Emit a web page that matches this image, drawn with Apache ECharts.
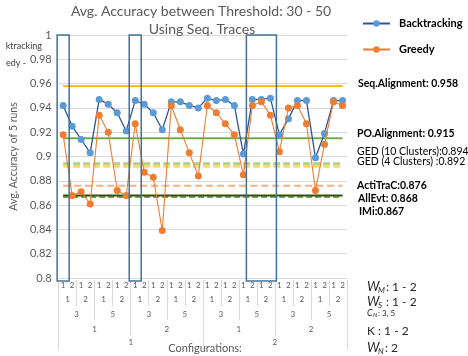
<!DOCTYPE html>
<html><head><meta charset="utf-8">
<script src="https://cdn.jsdelivr.net/npm/echarts@6/dist/echarts.min.js"></script>
<style>html,body{margin:0;padding:0;background:#fff}#c{width:468px;height:356px}</style>
</head><body><div id="c"></div>
<script>
// ---- data ----
const level1Labels = ['1','2','1','2','1','2','1','2','1','2','1','2','1','2','1','2','1','2','1','2','1','2','1','2','1','2','1','2','1','2','1','2'];
const level2Labels = ['1','2','1','2','1','2','1','2','1','2','1','2','1','2','1','2'];
const level3Labels = ['3','5','3','5','3','5','3','5'];
const level4Labels = ['1','2','1','2'];
const level5Labels = ['1','2'];
const backtracking = [0.942,0.925,0.914,0.903,0.947,0.943,0.936,0.921,0.946,0.943,0.936,0.922,0.945,0.945,0.942,0.940,0.948,0.946,0.947,0.942,0.902,0.947,0.947,0.948,0.918,0.931,0.946,0.946,0.899,0.919,0.946,0.946];
const greedy = [0.918,0.868,0.871,0.861,0.934,0.920,0.872,0.868,0.927,0.887,0.883,0.839,0.942,0.922,0.903,0.884,0.942,0.936,0.927,0.918,0.885,0.942,0.945,0.934,0.904,0.940,0.942,0.927,0.872,0.910,0.945,0.942];
const refNames = ['Seq.Alignment','PO.Alignment','GED (10 Clusters)','GED (4 Clusters)','ActiTraC','IMi','AllEvt'];
const refValues = [0.958,0.915,0.894,0.892,0.876,0.867,0.868];
const refLabels = ['Seq.Alignment: 0.958','PO.Alignment: 0.915','GED (10 Clusters):0.894','GED (4 Clusters) :0.892','ActiTraC:0.876','IMi:0.867','AllEvt: 0.868'];
const highlightRanges = [[0,0],[8,8],[21,23]];
const yMin = 0.8, yMax = 1, yStep = 0.02;

// ---- styles ----
const refStyles = [
  {color:'#FFC000', width:2, type:'solid'},
  {color:'#70AD47', width:2, type:'solid'},
  {color:'#A9D18E', width:3, type:[7,3]},
  {color:'#FFD966', width:3, type:[7,3]},
  {color:'#F4B183', width:2, type:[7,4]},
  {color:'#70AD47', width:3, type:[6,3]},
  {color:'#3B4A1E', width:2, type:'solid'}
];
const refLabelPos = [[358,84,'bold'],[357,134,'bold'],[357,152,'normal'],[357,162,'normal'],[357,186,'bold'],[359,212,'bold'],[358,199,'bold']];
const FONT = 'Lato';
const GRAY = '#595959';
const SEP = '#D9D9D9';

const catIds = level1Labels.map((_, i) => 'c' + i);
const n = catIds.length;

const refSeries = refNames.map((nm, k) => ({
  name: nm, type: 'line', xAxisIndex: 0, yAxisIndex: 0,
  data: [[0, refValues[k]], [n - 1, refValues[k]]],
  symbol: 'none', silent: true, z: 1,
  lineStyle: {color: refStyles[k].color, width: refStyles[k].width, type: refStyles[k].type},
  itemStyle: {color: refStyles[k].color}
}));

function levelAxis(labels, margin, tickLen, showTick) {
  return {
    type: 'category', gridIndex: 0, position: 'bottom', offset: 2,
    data: labels.map((_, i) => 'l' + labels.length + '_' + i),
    boundaryGap: true,
    axisLine: {show: false},
    axisTick: {show: showTick, interval: 0, length: tickLen, lineStyle: {color: SEP, width: 1}},
    axisLabel: {interval: 0, margin: margin, fontSize: 8, color: GRAY, fontFamily: FONT,
      formatter: (v, i) => labels[i]},
    splitLine: {show: false}
  };
}

const chart = echarts.init(document.getElementById('c'), null, {renderer: 'canvas'});
const option = {
  animation: false,
  backgroundColor: '#fff',
  grid: {left: 53, right: 121, top: 35, bottom: 78, containLabel: false},
  legend: {
    data: ['Backtracking', 'Greedy'],
    orient: 'vertical', left: 362, top: 18, itemGap: 15, padding: 0,
    itemWidth: 27, itemHeight: 8,
    textStyle: {fontFamily: FONT, fontWeight: 'bold', fontSize: 11, color: '#000', padding: [0,0,0,4]}
  },
  xAxis: [
    Object.assign(levelAxis(level1Labels, 1, 0, false), {data: catIds}),
    levelAxis(level2Labels, 15, 26, true),
    levelAxis(level3Labels, 30, 40, true),
    levelAxis(level4Labels, 45, 55, true),
    levelAxis(level5Labels, 58, 70, true)
  ],
  yAxis: {
    type: 'value', min: yMin, max: yMax, interval: yStep,
    axisLine: {show: false}, axisTick: {show: false},
    axisLabel: {fontSize: 11, color: GRAY, fontFamily: FONT, margin: 7},
    splitLine: {lineStyle: {color: SEP, width: 1}},
    name: 'Avg. Accuracy of 5 runs', nameLocation: 'middle', nameGap: 25,
    nameTextStyle: {fontSize: 10.5, color: GRAY, fontFamily: FONT}
  },
  series: refSeries.concat([
    {
      name: 'Backtracking', type: 'line', xAxisIndex: 0, data: backtracking,
      symbol: 'circle', symbolSize: 7, z: 3,
      lineStyle: {color: '#2F5597', width: 1.3},
      itemStyle: {color: '#5B9BD5'}
    },
    {
      name: 'Greedy', type: 'line', xAxisIndex: 0, data: greedy,
      symbol: 'circle', symbolSize: 7, z: 4,
      lineStyle: {color: '#ED7D31', width: 1.1},
      itemStyle: {color: '#ED7D31'}
    }
  ])
};
chart.setOption(option);

// graphics: boxes, title, annotations
const g = [];
g.push({type: 'text', x: 201, y: 11, style: {text: 'Avg. Accuracy between Threshold: 30 - 50', align: 'center', verticalAlign: 'middle', fontFamily: FONT, fontSize: 14, fill: GRAY}});
g.push({type: 'text', x: 202, y: 29, style: {text: 'Using Seq. Traces', align: 'center', verticalAlign: 'middle', fontFamily: FONT, fontSize: 14, fill: GRAY}});
g.push({type: 'text', x: 42, y: 46, style: {text: 'ktracking', align: 'right', verticalAlign: 'middle', fontFamily: FONT, fontSize: 9, fill: '#404040'}});
g.push({type: 'text', x: 26, y: 63, style: {text: 'edy -', align: 'right', verticalAlign: 'middle', fontFamily: FONT, fontSize: 9, fill: '#404040'}});
g.push({type: 'text', x: 205, y: 348, style: {text: 'Configurations:', align: 'center', verticalAlign: 'middle', fontFamily: FONT, fontSize: 11, fill: GRAY}});

const pStep = chart.convertToPixel({xAxisIndex: 0}, 1) - chart.convertToPixel({xAxisIndex: 0}, 0);
highlightRanges.forEach(([a, b]) => {
  const x0 = chart.convertToPixel({xAxisIndex: 0}, a) - pStep / 2 - 1.5;
  const x1 = chart.convertToPixel({xAxisIndex: 0}, b) + pStep / 2 + 1.5;
  const yTop = chart.convertToPixel({yAxisIndex: 0}, yMax);
  const yBot = chart.convertToPixel({yAxisIndex: 0}, yMin) + 3;
  g.push({type: 'rect', z: 10, shape: {x: x0, y: yTop, width: x1 - x0, height: yBot - yTop},
    style: {fill: 'none', stroke: '#41719C', lineWidth: 1.5}});
});

refLabels.forEach((t, k) => {
  g.push({type: 'text', x: refLabelPos[k][0], y: refLabelPos[k][1],
    style: {text: t, verticalAlign: 'middle', fontFamily: FONT, fontSize: 10.5, fontWeight: refLabelPos[k][2], fill: '#000'}});
});

// parameter notes (bottom right)
function note(parts, y) {
  let x = 367;
  parts.forEach(p => {
    g.push({type: 'text', x: x, y: y + (p.dy || 0),
      style: {text: p.t, verticalAlign: 'middle', fontFamily: FONT, fontSize: p.fs, fontStyle: p.it ? 'italic' : 'normal', fill: '#262626'}});
    x += p.w;
  });
}
note([{t:'W', fs:13, it:true, w:11}, {t:'M', fs:8, it:true, w:8, dy:3}, {t:': 1 - 2', fs:12, w:0}], 287);
note([{t:'W', fs:13, it:true, w:11}, {t:'S', fs:8, it:true, w:8, dy:3}, {t:': 1 - 2', fs:12, w:0}], 302);
note([{t:'C', fs:9, it:true, w:6}, {t:'N', fs:6, it:true, w:5, dy:2}, {t:': 3, 5', fs:8, w:0}], 313);
note([{t:'K : 1 - 2', fs:12, w:0}], 331);
note([{t:'W', fs:13, it:true, w:11}, {t:'N', fs:8, it:true, w:7, dy:3}, {t:': 2', fs:12, w:0}], 348);

chart.setOption({graphic: g});
</script></body></html>
